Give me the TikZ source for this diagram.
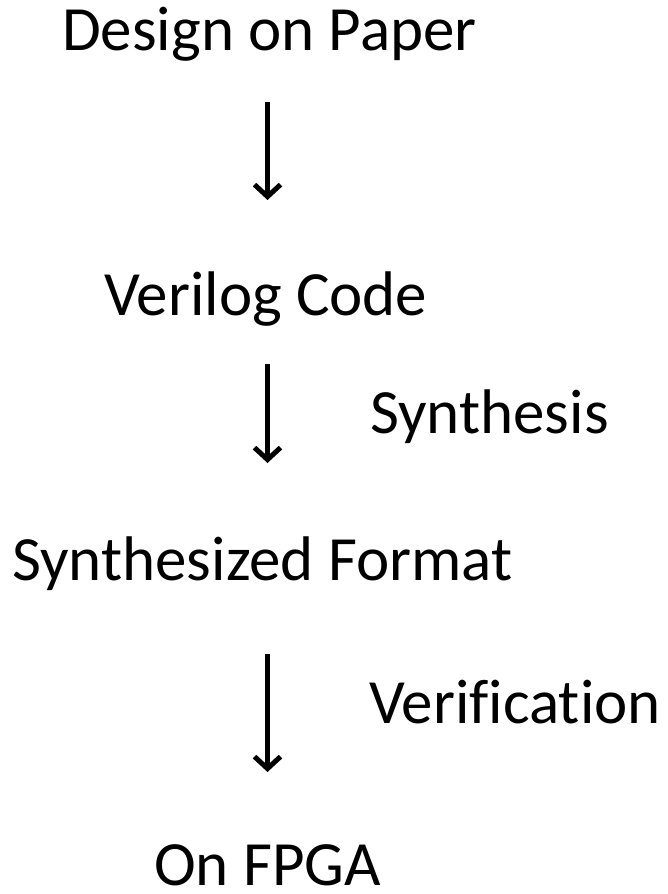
\documentclass[tikz,border=0pt]{standalone}
\usepackage{fontspec}
\setmainfont{Carlito}[Ligatures=NoCommon]
\usepackage{tikz}
\usetikzlibrary{arrows.meta}

\begin{document}
\begin{tikzpicture}[x=1pt, y=-1pt,
    every node/.style={font=\fontsize{63}{72}\selectfont, inner sep=0pt, anchor=base west},
    flow/.style={-{Straight Barb[length=12pt, width=26pt]}, line width=5pt}]
  \useasboundingbox (0,0) rectangle (667,894);

  % Stages
  \node (design)  at (62,50)  {Design on Paper};
  \node (verilog) at (104,315) {Verilog Code};
  \node (synthfmt) at (12,580) {Synthesized Format};
  \node (fpga)    at (154,885) {On FPGA};

  % Step labels
  \node (synth)  at (370,433) {Synthesis};
  \node (verify) at (369,723) {Verification};

  % Arrow ends
  \coordinate (s1) at (267.5,102);
  \coordinate (e1) at (267.5,200);
  \coordinate (s2) at (267.5,364);
  \coordinate (e2) at (267.5,463);
  \coordinate (s3) at (267.5,654);
  \coordinate (e3) at (267.5,772);

  \draw[flow] (s1) -- (e1);
  \draw[flow] (s2) -- (e2);
  \draw[flow] (s3) -- (e3);
\end{tikzpicture}
\end{document}
